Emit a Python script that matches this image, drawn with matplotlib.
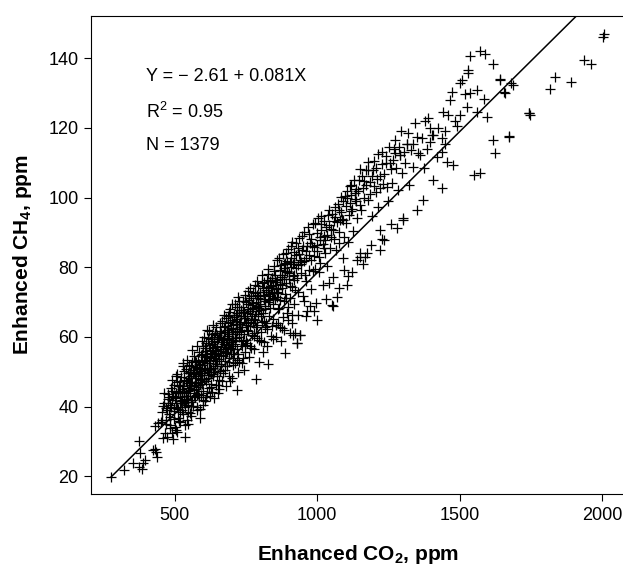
import matplotlib
matplotlib.use("Agg")
import matplotlib.pyplot as plt
import numpy as np

plt.rcParams['font.family'] = ['Liberation Sans', 'DejaVu Sans']
plt.rcParams['mathtext.fontset'] = 'custom'
plt.rcParams['mathtext.rm'] = 'Liberation Sans'
plt.rcParams['mathtext.bf'] = 'Liberation Sans:bold'

# Enhanced CO2 (ppm) and enhanced CH4 (ppm) (subset of the 1379 points)
co2 = [
    276, 322, 354, 376, 384, 389, 396, 378, 376, 425,
    439, 435, 431, 442, 454, 430, 460, 472, 489, 507,
    536, 483, 472, 483, 501, 519, 542, 548, 589, 554,
    577, 600, 478, 513, 548, 829, 785, 718, 465, 495,
    455, 462, 468, 475, 480, 486, 492, 497, 503, 508,
    512, 517, 521, 526, 530, 534, 538, 543, 547, 551,
    555, 558, 562, 566, 570, 573, 577, 581, 584, 588,
    591, 595, 598, 602, 605, 609, 612, 616, 619, 623,
    500, 505, 520, 528, 540, 545, 560, 565, 580, 585,
    596, 600, 610, 615, 620, 625, 630, 636, 640, 645,
    628, 632, 635, 639, 643, 647, 650, 654, 658, 662,
    665, 669, 672, 676, 680, 683, 687, 690, 694, 698,
    701, 705, 708, 712, 716, 720, 724, 727, 731, 735,
    738, 742, 746, 750, 754, 757, 761, 765, 768, 772,
    640, 655, 660, 675, 685, 695, 710, 722, 735, 748,
    660, 670, 680, 690, 700, 715, 725, 740, 752, 760,
    775, 779, 783, 786, 790, 794, 797, 801, 805, 808,
    812, 816, 820, 823, 827, 831, 835, 838, 842, 846,
    850, 854, 858, 861, 865, 869, 873, 877, 880, 884,
    888, 892, 896, 900, 904, 908, 912, 916, 920, 925,
    780, 795, 810, 825, 840, 855, 870, 885, 898, 910,
    930, 935, 940, 945, 950, 955, 960, 965, 970, 975,
    980, 985, 990, 995, 1000, 1005, 1010, 1015, 1020, 1025,
    1030, 1036, 1042, 1048, 1054, 1060, 1066, 1072, 1078, 1085,
    1090, 1096, 1102, 1108, 1114, 1120, 1126, 1132, 1140, 1146,
    916, 940, 998, 1051, 1104, 1069, 1121, 1150, 1174, 1162,
    887, 928, 922, 1010, 1080, 852, 811, 1221, 1233, 1280,
    1303, 1350, 1373, 1408, 1437, 1150, 1168, 1221, 929, 1056,
    1140, 1228, 1302, 960, 990, 1030, 1075, 1110, 1190, 1260,
    1133, 1116, 1221, 1256, 1291, 1355, 1315, 1397, 1092, 1057,
    1155, 1162, 1170, 1178, 1185, 1192, 1200, 1208, 1215, 1230,
    1240, 1248, 1262, 1270, 1278, 1285, 1298, 1310, 1322, 1335,
    1572, 1590, 1535, 1619, 1531, 1531, 1642, 1680, 1660, 1502,
    1507, 1472, 1560, 1537, 1519, 1584, 1467, 1443, 1461, 1502,
    1525, 1560, 1595, 1390, 1619, 1672, 1625, 1549, 1572, 1478,
    1742, 1396, 1425, 1408, 1350, 1338, 1315, 1291, 1361, 1420,
    1437, 1449, 1403, 1437, 1490, 1484, 1449, 1375, 1385, 1455,
    2008, 2003, 1937, 1961, 1835, 1816, 1891, 1745, 1675, 1687,
    1656, 1642, 1748,
    520, 532, 548, 556, 568, 574, 586, 593, 604, 611,
    618, 626, 633, 642, 651, 657, 664, 673, 681, 688,
    696, 703, 709, 718, 726, 733, 744, 753, 763, 773,
    783, 792, 803, 814, 826, 837, 848, 859, 871, 882,
    470, 485, 498, 510, 525, 537, 552, 563, 576, 590,
    603, 614, 627, 638, 649, 663, 677, 691, 705, 719,
    893, 905, 918, 932, 947, 962, 978, 993, 1008, 1024,
    452, 458, 464, 471, 477, 483, 489, 494, 499, 504,
    509, 514, 519, 524, 529, 533, 539, 544, 549, 553,
    557, 561, 567, 571, 575, 579, 583, 587, 592, 597,
    601, 606, 611, 617, 621, 624, 629, 634, 637, 641,
    644, 648, 652, 656, 659, 663, 667, 671, 674, 678,
    682, 686, 689, 693, 697, 700, 704, 707, 711, 714,
    717, 721, 723, 728, 732, 736, 739, 743, 747, 751,
    755, 758, 762, 766, 770, 774, 777, 781, 785, 789,
    793, 796, 800, 804, 807, 811, 815, 818, 822, 826,
    829, 833, 836, 840, 844, 847, 851, 856, 860, 864,
    867, 872, 876, 879, 883, 887, 891, 895, 899, 903,
    907, 911, 915, 919, 923, 927, 931, 936, 942, 948,
    953, 958, 963, 968, 973, 979, 984, 989, 994, 999,
    1003, 1009, 1014, 1019, 1023, 1028, 1034, 1040, 1046, 1052,
    1058, 1064, 1070, 1076, 1083, 1088, 1094, 1100, 1106, 1112,
    1118, 1124, 1130, 1136, 1143, 1149, 1156, 1163, 1170, 1177,
    1184, 1191, 1198, 1206, 1213, 1220, 1228, 1236, 1245, 1253,
    1265, 1275, 1287, 1296, 1306, 1318, 1330, 1342, 1368, 1380,
    505, 515, 527, 535, 546, 557, 567, 578, 588, 599,
    608, 619, 631, 644, 653, 666, 679, 692, 706, 720,
    530, 545, 558, 572, 585, 597, 612, 624, 637, 650,
    662, 676, 689, 702, 717, 730, 745, 758, 772, 787,
    800, 815, 830, 845, 860, 875, 890, 905, 920, 940,
    700, 712, 725, 738, 751, 764, 777, 790, 803, 817,
    845, 862, 878, 895, 913, 934, 955, 975, 1040, 1095,
    488, 496, 502, 511, 518, 523, 531, 541, 550, 559,
    564, 569, 576, 582, 590, 594, 603, 607, 613, 622,
    627, 633, 639, 646, 653, 658, 664, 670, 675, 684,
    688, 695, 699, 706, 713, 719, 726, 734, 741, 749,
    756, 763, 769, 776, 782, 788, 794, 802, 809, 817,
    824, 832, 839, 846, 853, 862, 870, 878, 886, 894,
    901, 909, 917, 926, 934, 943, 952, 961, 971, 982,
    615, 630, 645, 659, 673, 687, 701, 715, 729, 743,
    757, 771, 785, 799, 813, 827, 841, 855, 869, 883,
    540, 553, 566, 579, 593, 606, 620, 634, 648, 661,
    480, 491, 507, 518, 532, 544, 556, 570, 582, 596,
    1000, 1012, 1026, 1038, 1050, 1063, 1077, 1091, 1105, 1119,
    1135, 1150, 1165, 1180, 1196, 1211, 1226, 1242, 1258, 1272,
]
ch4 = [
    19.7, 21.8, 23.9, 22.6, 22.0, 23.9, 24.7, 26.6, 30.1, 27.5,
    25.6, 27.0, 27.7, 35.2, 36.1, 34.5, 31.0, 31.3, 32.3, 32.8,
    31.3, 33.8, 39.0, 40.4, 42.4, 43.8, 36.1, 35.0, 36.6, 38.1,
    39.0, 40.4, 40.9, 44.3, 48.1, 52.2, 47.8, 44.7, 32.5, 30.6,
    38.5, 41.0, 36.2, 43.5, 38.0, 45.2, 41.8, 36.5, 44.0, 47.0,
    39.2, 42.6, 48.5, 45.0, 37.8, 50.2, 43.1, 46.8, 40.5, 52.0,
    44.8, 48.9, 42.0, 54.5, 47.1, 51.3, 39.8, 45.6, 55.8, 49.5,
    43.2, 52.8, 57.5, 47.9, 41.6, 54.6, 50.4, 59.8, 45.3, 56.2,
    34.0, 48.8, 35.5, 51.6, 47.2, 38.5, 52.9, 40.2, 53.4, 42.8,
    58.9, 44.5, 47.2, 62.0, 52.5, 43.0, 58.0, 49.3, 61.2, 46.1,
    50.8, 55.4, 63.5, 42.4, 57.2, 52.1, 60.5, 47.6, 64.0, 54.8,
    58.4, 49.6, 66.2, 61.3, 45.8, 55.7, 63.9, 52.7, 68.0, 58.6,
    48.1, 62.4, 55.0, 69.5, 59.7, 65.1, 52.9, 70.4, 61.8, 57.3,
    67.0, 50.6, 72.1, 63.3, 58.1, 69.4, 54.2, 74.0, 64.7, 60.5,
    53.8, 44.9, 50.2, 53.0, 59.4, 47.3, 57.9, 49.8, 52.4, 55.6,
    61.8, 56.0, 65.4, 60.9, 64.8, 66.3, 63.7, 59.2, 66.8, 71.2,
    68.2, 56.4, 72.6, 62.8, 76.0, 66.5, 59.0, 70.8, 64.2, 75.4,
    58.6, 68.9, 73.5, 62.4, 78.1, 66.0, 71.7, 60.3, 76.8, 69.3,
    80.2, 63.5, 73.0, 67.9, 82.5, 70.6, 58.9, 77.3, 65.8, 79.9,
    72.4, 84.1, 68.7, 76.5, 61.2, 86.0, 74.2, 80.8, 69.5, 83.6,
    61.0, 52.8, 55.7, 57.3, 63.0, 60.1, 62.7, 62.0, 64.9, 66.2,
    77.0, 88.5, 60.5, 81.4, 71.8, 90.2, 84.6, 67.3, 79.1, 87.0,
    73.6, 92.3, 83.2, 69.8, 89.7, 78.5, 87.8, 94.6, 74.9, 85.4,
    91.5, 80.2, 96.3, 88.6, 77.2, 93.4, 84.9, 98.1, 90.0, 95.7,
    82.6, 100.4, 92.8, 87.3, 103.2, 96.0, 90.4, 99.6, 94.2, 105.1,
    60.5, 60.5, 64.8, 69.1, 74.9, 71.5, 78.7, 83.0, 84.0, 81.0,
    55.5, 58.3, 61.0, 88.7, 93.5, 75.8, 73.0, 90.7, 87.8, 91.2,
    93.5, 96.4, 99.3, 105.0, 102.6, 84.0, 83.0, 84.9, 58.2, 69.0,
    82.0, 88.0, 94.0, 66.0, 67.5, 71.0, 74.0, 77.5, 86.5, 92.5,
    101.2, 98.3, 106.3, 109.8, 112.2, 112.7, 115.5, 116.0, 93.5, 90.7,
    96.5, 102.8, 108.0, 99.4, 104.5, 94.8, 110.6, 101.7, 97.2, 104.0,
    111.8, 99.0, 104.3, 113.9, 108.4, 102.1, 106.9, 110.0, 103.6, 108.8,
    142.0, 141.2, 140.5, 138.3, 136.6, 135.7, 133.7, 132.8, 130.1, 132.8,
    133.7, 130.4, 130.9, 129.9, 129.8, 128.2, 128.0, 124.6, 123.7, 123.7,
    126.1, 124.6, 123.2, 122.7, 116.5, 117.5, 112.7, 106.4, 106.9, 109.3,
    124.2, 119.9, 119.9, 118.0, 117.5, 115.5, 115.5, 112.2, 112.2, 111.7,
    113.1, 115.3, 117.8, 117.0, 120.4, 122.0, 119.0, 108.5, 113.8, 110.2,
    146.8, 146.0, 139.4, 138.3, 134.6, 131.2, 133.1, 124.2, 117.6, 132.2,
    130.3, 134.0, 123.8,
    41.0, 44.2, 49.6, 46.3, 50.0, 45.1, 52.1, 48.0, 51.0, 55.9,
    49.0, 59.3, 51.2, 56.0, 55.5, 59.9, 52.3, 62.7, 57.6, 66.0,
    55.2, 59.0, 65.7, 56.4, 67.6, 58.8, 60.9, 62.1, 67.3, 64.0,
    66.1, 69.0, 67.8, 71.0, 69.9, 74.1, 72.9, 76.4, 75.1, 70.2,
    35.0, 37.0, 39.6, 36.8, 42.0, 40.0, 44.0, 49.5, 46.7, 39.4,
    53.2, 44.0, 46.5, 50.0, 48.7, 51.5, 50.5, 54.0, 52.0, 61.7,
    78.6, 71.2, 77.8, 73.0, 85.0, 76.0, 82.0, 79.6, 83.0, 89.0,
    35.5, 40.2, 44.0, 39.7, 42.3, 34.8, 47.5, 43.0, 46.1, 41.0,
    49.3, 45.8, 38.4, 43.9, 52.6, 47.7, 41.2, 53.5, 45.3, 49.8,
    41.4, 56.1, 45.9, 53.0, 49.2, 57.3, 43.7, 51.8, 54.9, 46.4,
    60.1, 50.9, 58.3, 48.1, 61.6, 53.9, 45.5, 56.7, 60.0, 51.7,
    62.8, 58.5, 46.3, 53.6, 61.0, 57.2, 64.6, 54.5, 59.8, 63.1,
    51.6, 60.2, 67.0, 56.9, 62.5, 69.3, 53.8, 66.4, 60.7, 63.8,
    68.6, 55.1, 71.5, 64.3, 67.8, 62.9, 70.3, 65.5, 57.7, 69.9,
    66.0, 73.2, 70.5, 56.9, 68.1, 72.8, 65.2, 75.0, 70.0, 63.5,
    74.6, 68.3, 72.9, 61.5, 77.7, 66.8, 75.8, 70.4, 64.1, 74.3,
    79.5, 68.2, 76.0, 72.6, 65.1, 78.9, 70.9, 75.7, 82.0, 73.8,
    68.4, 80.7, 73.9, 83.8, 76.7, 81.1, 71.3, 78.8, 85.2, 74.5,
    80.0, 87.3, 77.5, 84.3, 73.5, 86.9, 80.6, 83.9, 78.2, 88.9,
    81.8, 77.9, 86.1, 91.6, 83.5, 88.0, 79.0, 85.8, 92.8, 86.5,
    94.1, 81.3, 90.6, 86.8, 93.2, 84.0, 89.2, 92.0, 85.6, 95.3,
    88.1, 97.2, 92.9, 86.9, 100.1, 93.9, 88.8, 97.6, 101.9, 95.0,
    100.6, 96.8, 105.0, 99.0, 102.0, 97.8, 106.3, 100.0, 103.6, 107.8,
    100.9, 106.2, 103.3, 108.5, 112.4, 102.6, 109.6, 106.7, 103.0, 114.6,
    110.8, 116.6, 114.4, 119.2, 113.1, 118.6, 113.7, 121.3, 117.2, 121.9,
    33.2, 35.9, 39.0, 34.6, 43.0, 37.4, 42.9, 43.4, 47.0, 41.9,
    42.8, 50.0, 44.3, 55.0, 43.9, 47.4, 55.3, 48.9, 56.6, 53.3,
    46.0, 44.5, 51.5, 48.2, 50.7, 52.0, 53.3, 51.2, 54.5, 57.4,
    56.5, 56.4, 59.1, 61.5, 62.3, 63.6, 65.3, 61.6, 69.1, 68.5,
    69.4, 64.5, 72.3, 75.0, 71.5, 77.9, 75.6, 81.4, 76.3, 82.2,
    57.3, 52.6, 60.0, 53.9, 59.1, 57.4, 60.3, 59.7, 58.9, 62.8,
    59.5, 64.0, 62.5, 66.8, 64.0, 66.4, 70.2, 69.0, 75.5, 79.2,
    40.0, 38.8, 42.7, 44.6, 47.2, 41.5, 43.0, 50.8, 48.3, 47.0,
    50.6, 44.7, 52.7, 48.7, 47.6, 55.0, 49.7, 56.9, 52.4, 57.8,
    54.4, 48.8, 58.7, 53.2, 59.4, 50.3, 61.2, 59.0, 55.6, 62.0,
    57.0, 64.3, 58.0, 63.5, 58.7, 66.9, 61.4, 65.9, 68.5, 63.9,
    67.9, 63.0, 71.6, 69.8, 64.8, 72.0, 71.2, 66.1, 73.9, 68.0,
    76.3, 70.5, 74.6, 71.1, 77.7, 72.5, 79.2, 74.8, 79.0, 81.9,
    78.2, 82.5, 81.6, 79.7, 85.6, 81.0, 86.2, 82.7, 89.4, 86.0,
    55.0, 60.8, 56.2, 55.9, 57.9, 61.9, 59.6, 64.6, 62.7, 67.1,
    64.4, 66.5, 67.4, 71.8, 72.1, 73.0, 76.9, 73.6, 76.6, 80.8,
    41.9, 46.9, 49.8, 51.0, 50.1, 54.1, 50.9, 53.5, 52.3, 59.6,
    42.6, 44.4, 39.8, 46.3, 40.9, 42.1, 40.1, 42.7, 46.1, 49.0,
    84.6, 92.4, 87.7, 95.1, 91.0, 94.4, 96.4, 98.9, 99.8, 103.7,
    102.4, 108.2, 104.6, 110.3, 108.0, 105.3, 113.1, 110.0, 108.1, 112.9,
]

# regression reported on the chart
intercept = -2.61
slope = 0.081

fig = plt.figure(figsize=(6.23, 5.68), dpi=100)
ax = fig.add_axes([91 / 623, 74 / 568, 533.5 / 623, 478 / 568])

ax.plot(co2, ch4, linestyle='none', marker='+', color='black',
        markersize=7, markeredgewidth=0.9)

x_line = np.array([min(co2), max(co2)])
ax.plot(x_line, intercept + slope * x_line, color='black', linewidth=1.1)

ax.set_xlim(206, 2079)
ax.set_ylim(14.9, 152.1)
ax.set_xticks([500, 1000, 1500, 2000])
ax.set_yticks([20, 40, 60, 80, 100, 120, 140])
ax.tick_params(direction='out', length=5, width=0.8, labelsize=13, pad=4)
ax.spines['right'].set_visible(False)
for s in ['left', 'bottom', 'top']:
    ax.spines[s].set_linewidth(0.8)

ax.set_xlabel(r'Enhanced CO$_\mathbf{2}$, ppm', fontsize=15, fontweight='bold', labelpad=14)
ax.set_ylabel(r'Enhanced CH$_\mathbf{4}$, ppm', fontsize=15, fontweight='bold', labelpad=10)

ax.text(0.103, 0.874, 'Y = \u2212 2.61 + 0.081X', transform=ax.transAxes,
        fontsize=13, ha='left', va='center')
ax.text(0.103, 0.799, 'R$^2$ = 0.95', transform=ax.transAxes,
        fontsize=13, ha='left', va='center')
ax.text(0.103, 0.730, 'N = 1379', transform=ax.transAxes,
        fontsize=13, ha='left', va='center')

fig.savefig('out.png', dpi=100)
